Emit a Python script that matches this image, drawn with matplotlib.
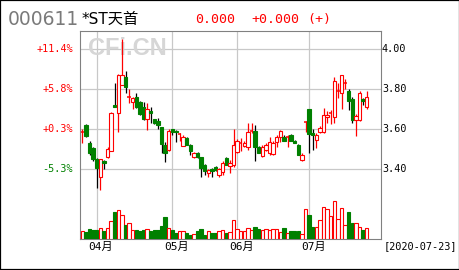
import matplotlib
matplotlib.use("Agg")
import matplotlib.pyplot as plt
import matplotlib.transforms as mtransforms
from matplotlib.patches import Rectangle
import pandas as pd

# ---------------- data ----------------
code = "000611"
name = "*ST天首"
last_price_text = "0.000"
change_text = "+0.000"
sign_text = "(+)"
end_label = "[2020-07-23]"
base_price = 3.59   # reference price for the % axis

all_days = pd.bdate_range("2020-03-26", "2020-07-23")
holidays = pd.to_datetime(["2020-04-06", "2020-05-01", "2020-05-04",
                           "2020-05-05", "2020-06-25", "2020-06-26"])
dates = all_days[~all_days.isin(holidays)]

open_ = [3.588, 3.620, 3.533, 3.505, 3.450, 3.360, 3.442, 3.460, 3.492, 3.722,
         3.680, 3.822, 3.860, 3.760, 3.735, 3.760, 3.738, 3.713, 3.650, 3.692,
         3.650, 3.643, 3.610, 3.522, 3.497, 3.600, 3.592, 3.575, 3.518, 3.555,
         3.522, 3.460, 3.483, 3.460, 3.420, 3.380, 3.400, 3.413, 3.370, 3.385,
         3.455, 3.417, 3.421, 3.488, 3.530, 3.517, 3.513, 3.590, 3.593, 3.513,
         3.467, 3.497, 3.480, 3.476, 3.538, 3.560, 3.563, 3.563, 3.572, 3.543,
         3.521, 3.446, 3.638, 3.701, 3.580, 3.546, 3.588, 3.588, 3.662, 3.683,
         3.660, 3.788, 3.783, 3.830, 3.791, 3.750, 3.646, 3.646, 3.750, 3.710]
high = [3.600, 3.625, 3.543, 3.510, 3.455, 3.450, 3.447, 3.510, 3.685, 3.830,
        3.875, 4.050, 3.893, 3.800, 3.760, 3.783, 3.743, 3.738, 3.730, 3.713,
        3.652, 3.655, 3.610, 3.538, 3.600, 3.602, 3.595, 3.583, 3.570, 3.560,
        3.525, 3.488, 3.487, 3.460, 3.425, 3.400, 3.405, 3.415, 3.405, 3.440,
        3.460, 3.447, 3.600, 3.550, 3.555, 3.540, 3.633, 3.630, 3.622, 3.515,
        3.520, 3.530, 3.560, 3.540, 3.572, 3.596, 3.570, 3.572, 3.575, 3.546,
        3.525, 3.480, 3.640, 3.701, 3.600, 3.580, 3.615, 3.705, 3.690, 3.696,
        3.863, 3.833, 3.871, 3.850, 3.800, 3.760, 3.675, 3.790, 3.755, 3.793]
low = [3.530, 3.560, 3.470, 3.443, 3.305, 3.297, 3.400, 3.455, 3.490, 3.710,
       3.588, 3.820, 3.780, 3.730, 3.700, 3.705, 3.672, 3.647, 3.597, 3.630,
       3.627, 3.600, 3.480, 3.438, 3.490, 3.570, 3.538, 3.540, 3.515, 3.520,
       3.472, 3.455, 3.455, 3.360, 3.370, 3.363, 3.363, 3.390, 3.360, 3.370,
       3.420, 3.380, 3.410, 3.480, 3.490, 3.510, 3.497, 3.580, 3.440, 3.480,
       3.460, 3.490, 3.470, 3.470, 3.510, 3.538, 3.540, 3.510, 3.540, 3.530,
       3.470, 3.440, 3.588, 3.480, 3.497, 3.505, 3.580, 3.580, 3.630, 3.626,
       3.630, 3.755, 3.700, 3.800, 3.697, 3.630, 3.567, 3.640, 3.720, 3.700]
close = [3.588, 3.565, 3.480, 3.450, 3.405, 3.450, 3.433, 3.500, 3.680, 3.713,
         3.872, 3.872, 3.813, 3.760, 3.758, 3.713, 3.677, 3.652, 3.700, 3.683,
         3.633, 3.620, 3.527, 3.483, 3.593, 3.588, 3.585, 3.575, 3.563, 3.522,
         3.493, 3.483, 3.460, 3.405, 3.390, 3.396, 3.392, 3.396, 3.400, 3.430,
         3.422, 3.430, 3.521, 3.541, 3.530, 3.533, 3.588, 3.590, 3.513, 3.483,
         3.513, 3.522, 3.538, 3.530, 3.560, 3.591, 3.543, 3.563, 3.543, 3.533,
         3.471, 3.471, 3.638, 3.577, 3.570, 3.571, 3.605, 3.671, 3.670, 3.683,
         3.840, 3.790, 3.871, 3.830, 3.743, 3.646, 3.666, 3.783, 3.743, 3.760]
volume = [8.0, 7.3, 10.0, 9.3, 9.3, 10.7, 8.0, 10.7, 18.3, 27.3,
          29.0, 24.0, 14.0, 15.7, 9.0, 9.0, 8.3, 9.0, 10.0, 8.3,
          9.0, 9.3, 13.0, 22.0, 10.7, 9.0, 5.7, 8.0, 8.0, 5.7,
          4.0, 4.7, 8.0, 10.0, 4.0, 8.0, 5.7, 6.0, 8.0, 9.0,
          6.0, 6.7, 18.7, 9.7, 8.0, 8.0, 10.7, 9.0, 12.0, 9.7,
          9.3, 10.0, 9.3, 10.0, 10.0, 6.7, 11.0, 5.7, 8.0, 8.0,
          8.0, 4.7, 29.7, 24.0, 12.0, 12.0, 19.0, 31.7, 29.7, 23.0,
          38.0, 19.7, 30.7, 14.0, 27.3, 15.7, 15.7, 11.7, 9.0, 10.7]
price_ticks = [4.00, 3.80, 3.60, 3.40]

# ---------------- style ----------------
RED = "#ff0000"
GREEN = "#008000"
GRID = "#c8c8c8"
FRAME = "#808080"
W, H = 460, 270
MONO = ["DejaVu Sans Mono", "Noto Sans CJK SC"]

fig = plt.figure(figsize=(W / 100, H / 100), dpi=100)
fig.patch.set_facecolor("white")

# plot box in pixels: x 80..381, y 31..239 (from top)
bx0, bx1, by0, by1 = 80, 381, 31, 239
ax = fig.add_axes([bx0 / W, 1 - by1 / H, (bx1 - bx0) / W, (by1 - by0) / H])
n = len(close)
ax.set_xlim(-0.64, 82.97)
ax.set_ylim(3.0515, 4.0915)
ax.set_xticks([])
ax.set_yticks([])
for s in ax.spines.values():
    s.set_color(FRAME)
    s.set_linewidth(0.8)

# month boundaries from dates
month_idx = [i for i in range(1, n) if dates[i].month != dates[i - 1].month]
month_lbl = [f"{dates[i].month:02d}月" for i in month_idx]

# gridlines
for p in price_ticks:
    ax.axhline(p, color=GRID, lw=0.9, zorder=0)
for i in month_idx:
    ax.axvline(i, color=GRID, lw=0.9, zorder=0)

# watermark
ax.text(0.027, 0.916, "CFi.CN", transform=ax.transAxes, ha="left", va="center",
        fontsize=17, fontweight="bold", family="Liberation Sans",
        color="#d6d6d6", zorder=0.5)

# candles
bw = 0.9
for i in range(n):
    o, h, l, c = open_[i], high[i], low[i], close[i]
    up = c >= o
    wick = RED if up else "black"
    ax.vlines(i, l, h, color=wick, lw=0.9, zorder=2)
    if abs(c - o) < 0.003:
        ax.hlines(c, i - bw / 2, i + bw / 2, color=RED if up else GREEN, lw=1.1, zorder=3)
    else:
        ax.add_patch(Rectangle((i - bw / 2, min(o, c)), bw, abs(c - o),
                               facecolor="white" if up else GREEN,
                               edgecolor=RED if up else GREEN, lw=0.8, zorder=3))

# volume
vax = ax.twinx()
vax.set_ylim(0, max(volume) * 208 / 38)
vax.set_yticks([])
for s in vax.spines.values():
    s.set_visible(False)
for i in range(n):
    up = close[i] >= open_[i]
    vax.add_patch(Rectangle((i - bw / 2, 0), bw, volume[i],
                            facecolor="white" if up else GREEN,
                            edgecolor=RED if up else GREEN, lw=0.8, zorder=3))

# axis labels
blend_l = mtransforms.blended_transform_factory(ax.transAxes, ax.transData)
for p in price_ticks:
    pct = (p / base_price - 1) * 100
    ax.text(-7 / 301, p, f"{pct:+.1f}%", transform=blend_l, ha="right", va="center",
            fontsize=7.3, family=MONO, color=RED if pct >= 0 else GREEN)
    ax.text(1 + 1 / 301, p, f"{p:.2f}", transform=blend_l, ha="left", va="center",
            fontsize=7.3, family=MONO, color="black")

blend_b = mtransforms.blended_transform_factory(ax.transData, ax.transAxes)
for i, lb in zip(month_idx, month_lbl):
    ax.text(i + 1.2, -7.7 / 208, lb, transform=blend_b, ha="center", va="center",
            fontsize=8, family=MONO, color="black")


def fx(x):
    return x / W


def fy(y):
    return 1 - y / H


fig.text(fx(384), fy(246.5), end_label, ha="left", va="center", fontsize=7.4,
         family=MONO, color="black")

# header
fig.text(fx(8), fy(19.5), code, ha="left", va="center", fontsize=13.5,
         family=["DejaVu Sans", "Noto Sans CJK SC"], color="#7a7a7a")
fig.text(fx(82), fy(19.5), name, ha="left", va="center", fontsize=11,
         family=["DejaVu Sans", "Noto Sans CJK SC"], color="black")
fig.text(fx(195), fy(19.5), last_price_text, ha="left", va="center", fontsize=9.5,
         family=MONO, color=RED)
fig.text(fx(251), fy(19.5), change_text, ha="left", va="center", fontsize=9.5,
         family=MONO, color=RED)
fig.text(fx(307), fy(19.5), sign_text, ha="left", va="center", fontsize=9.5,
         family=MONO, color=RED)

# outer frame
fig.patches.append(Rectangle((0, 0), 1, 1, transform=fig.transFigure, fill=False,
                             edgecolor="black", lw=1.6))

fig.savefig("out.png", dpi=100, facecolor="white")
